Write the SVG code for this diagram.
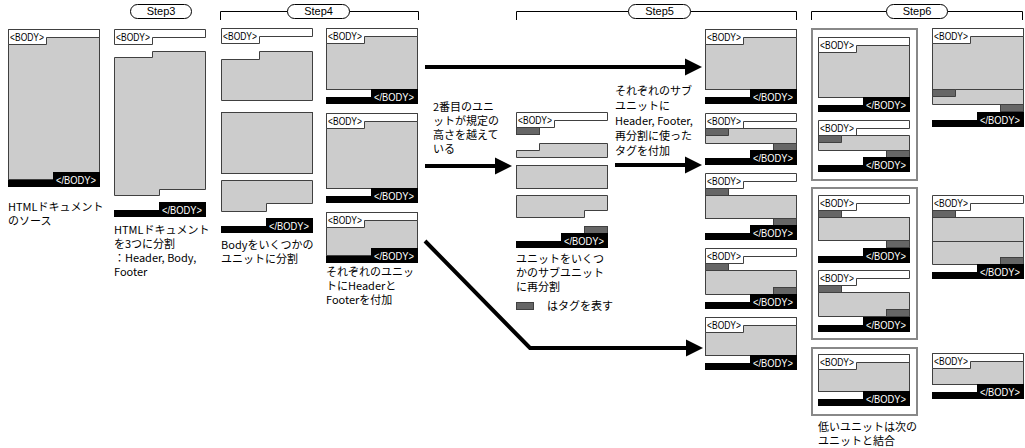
<svg xmlns="http://www.w3.org/2000/svg" xmlns:xlink="http://www.w3.org/1999/xlink" width="1025" height="448" viewBox="0 0 1025 448">
<style>
.hd{fill:#fff;stroke:#404040;stroke-width:1}
.bd{fill:#cccccc;stroke:#404040;stroke-width:1}
.dk{fill:#666;stroke:#404040;stroke-width:1}
.tg{font-family:"Liberation Sans",Arial,sans-serif;font-size:11px}
.cap{font-family:"Noto Sans CJK JP","Liberation Sans",sans-serif;font-size:11px;fill:#000}
.pill{fill:#fff;stroke:#000;stroke-width:1}
.br{fill:none;stroke:#000;stroke-width:1}
.st{font-family:"Liberation Sans",Arial,sans-serif;font-size:11px;text-anchor:middle}
.fr{fill:none;stroke:#888;stroke-width:2}
.ar{fill:none;stroke:#000;stroke-width:4}
</style>
<defs>
<g id="hdr"><path class="hd" d="M0.5,0.5H91.5V8.5H38.5V15.5H0.5Z"/><text class="tg" x="2" y="12" textLength="34" lengthAdjust="spacingAndGlyphs">&lt;BODY&gt;</text></g>
<g id="ftr"><path d="M45,0H92V15H0V8H45Z" fill="#000"/><text class="tg" x="48" y="12" fill="#fff" textLength="40" lengthAdjust="spacingAndGlyphs">&lt;/BODY&gt;</text></g>
<marker id="ah" viewBox="0 -9 17 18" refX="1" refY="0" markerWidth="17" markerHeight="18" markerUnits="userSpaceOnUse" orient="auto"><path d="M0,-8.5L17,0L0,8.5Z" fill="#000"/></marker>
</defs>

<g id="labels">
<rect class="pill" x="130.5" y="4.5" width="61" height="14" rx="7"/><text class="st" x="161" y="15">Step3</text>
<path class="br" d="M220.5,20V11.5H287.5M349.5,11.5H418.5V20"/>
<rect class="pill" x="287.5" y="4.5" width="62" height="14" rx="7"/><text class="st" x="318.5" y="15">Step4</text>
<path class="br" d="M516.5,20V11.5H628.5M690.5,11.5H796.5V20"/>
<rect class="pill" x="628.5" y="4.5" width="62" height="14" rx="7"/><text class="st" x="659.5" y="15">Step5</text>
<path class="br" d="M811.5,20V11.5H886.5M947.5,11.5H1022.5V20"/>
<rect class="pill" x="886.5" y="4.5" width="61" height="14" rx="7"/><text class="st" x="917" y="15">Step6</text>
</g>

<g id="n-source">
<rect class="bd" x="8.5" y="29.5" width="91" height="150"/>
<use href="#hdr" x="8" y="29"/>
<use href="#ftr" x="8" y="172"/>
<text class="cap" x="8" y="211">HTMLドキュメント<tspan x="8" y="225">のソース</tspan></text>
</g>

<g id="n-step3">
<use href="#hdr" x="114" y="29"/>
<path class="bd" d="M114.5,57.5H152.5V51.5H205.5V189.5H159.5V195.5H114.5Z"/>
<use href="#ftr" x="114" y="202"/>
<text class="cap" x="114" y="234">HTMLドキュメント<tspan x="114" y="248">を3つに分割</tspan><tspan x="114" y="262">：Header, Body,</tspan><tspan x="114" y="276">Footer</tspan></text>
</g>

<g id="n-step4-split">
<use href="#hdr" x="221" y="28"/>
<path class="bd" d="M221.5,59.5H259.5V51.5H312.5V100.5H221.5Z"/>
<rect class="bd" x="221.5" y="112.5" width="91" height="61"/>
<path class="bd" d="M221.5,180.5H312.5V203.5H266.5V211.5H221.5Z"/>
<use href="#ftr" x="221" y="218"/>
<text class="cap" x="221" y="249">Bodyをいくつかの<tspan x="221" y="263">ユニットに分割</tspan></text>
</g>

<g id="n-step4-unit1">
<rect class="bd" x="326.5" y="28.5" width="91" height="61"/>
<use href="#hdr" x="326" y="28"/>
<use href="#ftr" x="326" y="89"/>
</g>
<g id="n-step4-unit2">
<rect class="bd" x="326.5" y="113.5" width="91" height="75"/>
<use href="#hdr" x="326" y="113"/>
<use href="#ftr" x="326" y="188"/>
</g>
<g id="n-step4-unit3">
<rect class="bd" x="326.5" y="212.5" width="91" height="43"/>
<use href="#hdr" x="326" y="212"/>
<use href="#ftr" x="326" y="248"/>
<text class="cap" x="326" y="276">それぞれのユニッ<tspan x="326" y="290">トにHeaderと</tspan><tspan x="326" y="304">Footerを付加</tspan></text>
</g>

<g id="n-subsplit">
<use href="#hdr" x="516" y="112"/>
<rect class="dk" x="516.5" y="127.5" width="23" height="7"/>
<path class="bd" d="M516.5,150.5H539.5V143.5H607.5V157.5H516.5Z"/>
<rect class="bd" x="516.5" y="165.5" width="91" height="23"/>
<path class="bd" d="M516.5,195.5H607.5V210.5H584.5V217.5H516.5Z"/>
<rect class="dk" x="584.5" y="226.5" width="23" height="7"/>
<use href="#ftr" x="516" y="233"/>
<text class="cap" x="516" y="263">ユニットをいくつ<tspan x="516" y="277">かのサブユニット</tspan><tspan x="516" y="291">に再分割</tspan></text>
<rect class="dk" x="516.5" y="302.5" width="17" height="7"/>
<text class="cap" x="547" y="310">はタグを表す</text>
</g>

<g id="notes">
<text class="cap" x="433" y="111">2番目のユニ<tspan x="433" y="125">ットが規定の</tspan><tspan x="433" y="139">高さを越えて</tspan><tspan x="433" y="153">いる</tspan></text>
<text class="cap" x="615" y="95">それぞれのサブ<tspan x="615" y="110">ユニットに</tspan><tspan x="615" y="125">Header, Footer,</tspan><tspan x="615" y="140">再分割に使った</tspan><tspan x="615" y="155">タグを付加</tspan></text>
</g>

<g id="n-step5-1">
<rect class="bd" x="705.5" y="29.5" width="91" height="60"/>
<use href="#hdr" x="705" y="29"/>
<use href="#ftr" x="705" y="89"/>
</g>
<g id="n-step5-2">
<use href="#hdr" x="705" y="113"/>
<rect class="dk" x="705.5" y="128.5" width="23" height="7"/>
<path class="bd" d="M705.5,135.5H728.5V128.5H796.5V143.5H705.5Z"/>
<rect class="dk" x="773.5" y="143.5" width="23" height="7"/>
<use href="#ftr" x="705" y="150"/>
</g>
<g id="n-step5-3">
<use href="#hdr" x="705" y="173"/>
<rect class="dk" x="705.5" y="188.5" width="23" height="7"/>
<rect class="bd" x="705.5" y="195.5" width="91" height="23"/>
<rect class="dk" x="773.5" y="218.5" width="23" height="7"/>
<use href="#ftr" x="705" y="225"/>
</g>
<g id="n-step5-4">
<use href="#hdr" x="705" y="248"/>
<rect class="dk" x="705.5" y="263.5" width="23" height="7"/>
<path class="bd" d="M705.5,270.5H796.5V287.5H773.5V294.5H705.5Z"/>
<rect class="dk" x="773.5" y="287.5" width="23" height="7"/>
<use href="#ftr" x="705" y="294"/>
</g>
<g id="n-step5-5">
<rect class="bd" x="705.5" y="317.5" width="91" height="38"/>
<use href="#hdr" x="705" y="317"/>
<use href="#ftr" x="705" y="355"/>
</g>

<g id="n-step6-group1">
<rect class="fr" x="812" y="29" width="105" height="151"/>
<rect class="bd" x="818.5" y="37.5" width="91" height="60"/>
<use href="#hdr" x="818" y="37"/>
<use href="#ftr" x="818" y="97"/>
<use href="#hdr" x="818" y="120"/>
<rect class="dk" x="818.5" y="135.5" width="23" height="7"/>
<path class="bd" d="M818.5,142.5H841.5V135.5H909.5V150.5H818.5Z"/>
<rect class="dk" x="886.5" y="150.5" width="23" height="7"/>
<use href="#ftr" x="818" y="157"/>
</g>
<g id="n-step6-merged1">
<rect class="bd" x="932.5" y="28.5" width="91" height="61"/>
<use href="#hdr" x="932" y="28"/>
<rect class="dk" x="932.5" y="89.5" width="23" height="7"/>
<path class="bd" d="M932.5,96.5H955.5V89.5H1023.5V104.5H932.5Z"/>
<rect class="dk" x="1000.5" y="104.5" width="23" height="7"/>
<use href="#ftr" x="932" y="112"/>
</g>

<g id="n-step6-group2">
<rect class="fr" x="812" y="188" width="105" height="151"/>
<use href="#hdr" x="818" y="195"/>
<rect class="dk" x="818.5" y="210.5" width="23" height="7"/>
<rect class="bd" x="818.5" y="217.5" width="91" height="23"/>
<rect class="dk" x="886.5" y="240.5" width="23" height="7"/>
<use href="#ftr" x="818" y="248"/>
<use href="#hdr" x="818" y="270"/>
<rect class="dk" x="818.5" y="285.5" width="23" height="7"/>
<path class="bd" d="M818.5,292.5H909.5V309.5H886.5V316.5H818.5Z"/>
<rect class="dk" x="886.5" y="309.5" width="23" height="7"/>
<use href="#ftr" x="818" y="317"/>
</g>
<g id="n-step6-merged2">
<use href="#hdr" x="932" y="195"/>
<rect class="dk" x="932.5" y="210.5" width="23" height="7"/>
<rect class="bd" x="932.5" y="217.5" width="91" height="24"/>
<path class="bd" d="M932.5,241.5H1023.5V257.5H1000.5V264.5H932.5Z"/>
<rect class="dk" x="1000.5" y="257.5" width="23" height="7"/>
<use href="#ftr" x="932" y="264"/>
</g>

<g id="n-step6-group3">
<rect class="fr" x="812" y="348" width="105" height="67"/>
<rect class="bd" x="818.5" y="354.5" width="91" height="37"/>
<use href="#hdr" x="818" y="354"/>
<use href="#ftr" x="818" y="391"/>
<text class="cap" x="818" y="431">低いユニットは次の<tspan x="818" y="445">ユニットと結合</tspan></text>
</g>
<g id="n-step6-merged3">
<rect class="bd" x="932.5" y="353.5" width="91" height="31"/>
<use href="#hdr" x="932" y="353"/>
<use href="#ftr" x="932" y="384"/>
</g>

<g id="connectors">
<path class="ar" d="M425,67H686" marker-end="url(#ah)"/>
<path class="ar" d="M425,166H496" marker-end="url(#ah)"/>
<path class="ar" d="M615,165H686" marker-end="url(#ah)"/>
<path class="ar" d="M425,241L530,348H687" marker-end="url(#ah)"/>
</g>
</svg>
